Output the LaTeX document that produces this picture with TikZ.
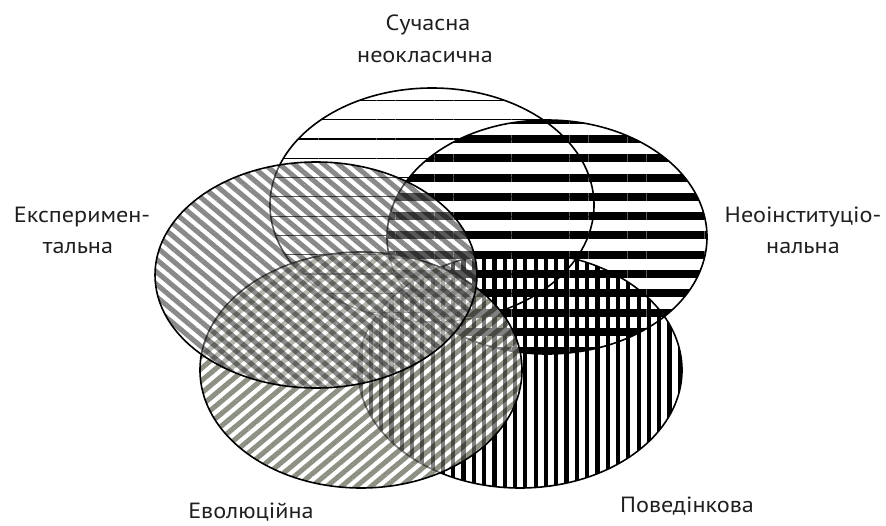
\documentclass[tikz,border=0pt]{standalone}
\usepackage{fontspec}
\setmainfont{PT Sans}[FakeStretch=1.1]
\usetikzlibrary{patterns.meta}
\definecolor{grayA}{HTML}{8A8A8A}
\definecolor{grayB}{HTML}{8E9284}
\tikzset{
  outline/.style={draw=black,line width=1.6pt},
  lbl/.style={font=\fontsize{22}{26}\selectfont,text=black!88,inner sep=0pt,anchor=base},
  pthin/.style={pattern={Lines[angle=0,distance=19.3pt,line width=1.2pt]},pattern color=black},
  pthick/.style={pattern={Lines[angle=0,distance=19.3pt,line width=8pt]},pattern color=black},
  pvert/.style={pattern={Lines[angle=90,distance=10.3pt,line width=4.2pt]},pattern color=black},
  pdiagA/.style={pattern={Lines[angle=-40,distance=9.5pt,line width=5pt]},pattern color=grayA},
  pdiagB/.style={pattern={Lines[angle=40,distance=9.5pt,line width=5pt]},pattern color=grayB}
}
\begin{document}
\begin{tikzpicture}[x=1pt,y=-1pt]
\useasboundingbox[fill=white] (0,0) rectangle (886,525);
% E1 Сучасна неокласична
\path[pthin] (432,205) ellipse [x radius=162, y radius=117];
\path[outline] (432,205) ellipse [x radius=162, y radius=117];
% E2 Неоінституціональна
\path[pthick] (547,237) ellipse [x radius=160, y radius=117];
\path[outline] (547,237) ellipse [x radius=160, y radius=117];
% E5 Поведінкова
\path[pvert] (520,370) ellipse [x radius=162, y radius=118];
\path[outline] (520,370) ellipse [x radius=162, y radius=118];
% E4 Еволюційна
\path[fill=white,fill opacity=0.5] (361,370) ellipse [x radius=161, y radius=118];
\begin{scope}[blend mode=multiply]
\path[pdiagB] (361,370) ellipse [x radius=161, y radius=118];
\end{scope}
\path[outline] (361,370) ellipse [x radius=161, y radius=118];
% E3 Експериментальна
\path[fill=white,fill opacity=0.35] (316,275) ellipse [x radius=161, y radius=113];
\begin{scope}[blend mode=multiply]
\path[pdiagA] (316,275) ellipse [x radius=161, y radius=113];
\end{scope}
\path[outline] (316,275) ellipse [x radius=161, y radius=113];
% labels
\node[lbl] (l1a) at (428,30) {Сучасна};
\node[lbl] (l1b) at (425,62) {неокласична};
\node[lbl] (l3a) at (82,222) {Експеримен-};
\node[lbl] (l3b) at (78,253) {тальна};
\node[lbl] (l2a) at (803,222) {Неоінституціо-};
\node[lbl] (l2b) at (803,253) {нальна};
\node[lbl] (l4) at (251,518) {Еволюційна};
\node[lbl,anchor=base west] (l5) at (620,512) {Поведінкова};
\end{tikzpicture}
\end{document}
